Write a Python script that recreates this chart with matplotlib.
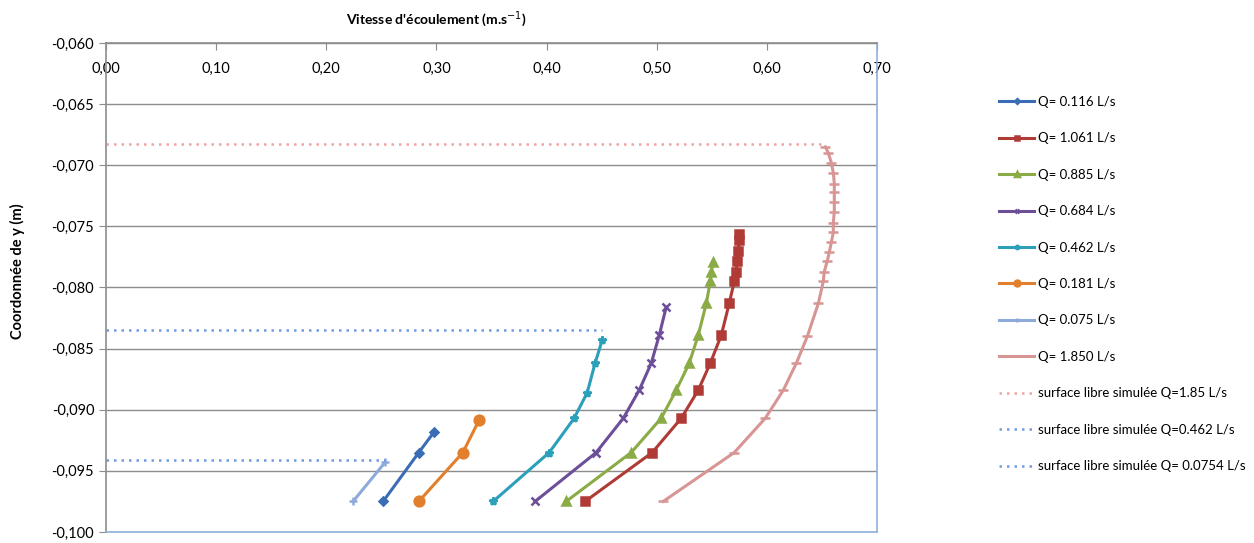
import matplotlib
matplotlib.use("Agg")
import matplotlib.pyplot as plt
from matplotlib.ticker import FuncFormatter, MultipleLocator

plt.rcParams['font.family'] = ['Lato', 'DejaVu Sans']

# vitesse (m/s) / profondeur y (m) for each discharge
v_0116 = [0.2516, 0.284, 0.298]
y_0116 = [-0.0975, -0.0935, -0.0918]

v_1061 = [0.435, 0.4959, 0.5222, 0.5377, 0.5486, 0.5586, 0.5658, 0.5704, 0.5722,
          0.5731, 0.574, 0.5749, 0.5749]
y_1061 = [-0.0975, -0.0935, -0.0907, -0.0884, -0.0862, -0.0839, -0.0813, -0.0795,
          -0.0787, -0.0778, -0.0770, -0.0761, -0.0756]

v_0885 = [0.4178, 0.4768, 0.504, 0.5177, 0.5295, 0.5377, 0.545, 0.5486, 0.5495, 0.5513]
y_0885 = [-0.0975, -0.0935, -0.0907, -0.0884, -0.0862, -0.0839, -0.0813, -0.0795,
          -0.0787, -0.0779]

v_0684 = [0.3896, 0.445, 0.4696, 0.4841, 0.495, 0.5023, 0.5086]
y_0684 = [-0.0975, -0.0935, -0.0907, -0.0884, -0.0862, -0.0839, -0.0816]

v_0462 = [0.3515, 0.4024, 0.425, 0.4369, 0.444, 0.4505]
y_0462 = [-0.0975, -0.0935, -0.0907, -0.0886, -0.0862, -0.0843]

v_0181 = [0.284, 0.324, 0.339]
y_0181 = [-0.0975, -0.0935, -0.0908]

v_0075 = [0.2243, 0.2534]
y_0075 = [-0.0975, -0.0943]

v_1850 = [0.5059, 0.5704, 0.5985, 0.6149, 0.6267, 0.6367, 0.6467, 0.6512, 0.6521,
          0.6549, 0.6567, 0.6585, 0.6603, 0.6603, 0.6612, 0.6612, 0.6612, 0.6612,
          0.6603, 0.6585, 0.6558, 0.653]
y_1850 = [-0.0975, -0.0935, -0.0907, -0.0884, -0.0862, -0.0840, -0.0813, -0.0795,
          -0.0787, -0.0778, -0.0771, -0.0763, -0.0755, -0.0747, -0.0738, -0.0730,
          -0.0722, -0.0715, -0.0706, -0.0698, -0.0690, -0.0685]

# simulated free surface: (x extent, level)
surf_185 = ([0.0, 0.653], [-0.0683, -0.0683])
surf_0462 = ([0.0, 0.4505], [-0.0835, -0.0835])
surf_00754 = ([0.0, 0.2534], [-0.0941, -0.0941])

series = [
    (v_0116, y_0116, 'Q= 0.116 L/s', '#3a6db5', 'D', 4),
    (v_1061, y_1061, 'Q= 1.061 L/s', '#b03a36', 's', 6),
    (v_0885, y_0885, 'Q= 0.885 L/s', '#8bab46', '^', 6),
    (v_0684, y_0684, 'Q= 0.684 L/s', '#6d4f99', 'x', 6),
    (v_0462, y_0462, 'Q= 0.462 L/s', '#2c9fbb', '*', 6),
    (v_0181, y_0181, 'Q= 0.181 L/s', '#e27f2d', 'o', 7),
    (v_0075, y_0075, 'Q= 0.075 L/s', '#8eaadb', '+', 6),
    (v_1850, y_1850, 'Q= 1.850 L/s', '#d79593', '_', 7),
]

fig = plt.figure(figsize=(12.54, 5.43), dpi=100)
ax = fig.add_axes([0.0845, 0.0203, 0.6149, 0.9005])

for v, y, lab, col, mk, ms in series:
    ax.plot(v, y, color=col, lw=2.2, marker=mk, ms=ms, mew=1.8, label=lab)

ax.plot(*surf_185, color='#f0a4a4', lw=1.8, ls=(0, (1, 2)),
        label='surface libre simulée Q=1.85 L/s')
ax.plot(*surf_0462, color='#6f9ae0', lw=1.8, ls=(0, (1, 2)),
        label='surface libre simulée Q=0.462 L/s')
ax.plot(*surf_00754, color='#6f9ae0', lw=1.8, ls=(0, (1, 2)),
        label='surface libre simulée Q= 0.0754 L/s')

ax.set_xlim(0, 0.70)
ax.set_ylim(-0.100, -0.060)
ax.xaxis.set_major_locator(MultipleLocator(0.10))
ax.yaxis.set_major_locator(MultipleLocator(0.005))
ax.xaxis.set_major_formatter(FuncFormatter(lambda x, p: f"{x:.2f}".replace('.', ',')))
ax.yaxis.set_major_formatter(FuncFormatter(lambda y, p: f"{y:.3f}".replace('.', ',')))

ax.yaxis.grid(True, color='#8c8c8c', lw=1)
ax.set_axisbelow(True)

ax.tick_params(axis='x', top=True, bottom=False, labeltop=True, labelbottom=False,
               direction='in', length=5, pad=-24, labelsize=10.5, color='#8c8c8c')
ax.tick_params(axis='y', direction='out', length=5, labelsize=10.5, color='#8c8c8c')

ax.spines['left'].set_color('#8c8c8c')
ax.spines['top'].set_color('#8c8c8c')
ax.spines['right'].set_color('#8eb1e0')
ax.spines['bottom'].set_color('#8eb1e0')
for s in ax.spines.values():
    s.set_linewidth(1.2)

fig.text(0.348, 0.965, "Vitesse d'écoulement (m.s$^{-1}$)", ha='center', va='center',
         fontsize=10, fontweight='bold')
fig.text(0.014, 0.5, "Coordonnée de y (m)", ha='center', va='center', rotation=90,
         fontsize=10.5, fontweight='bold')

fig.legend(loc='upper left', bbox_to_anchor=(0.787, 0.845), frameon=False,
           fontsize=9.5, labelspacing=1.85, handlelength=2.7, handletextpad=0.3,
           markerscale=0.6)

fig.savefig('out.png', dpi=100)
